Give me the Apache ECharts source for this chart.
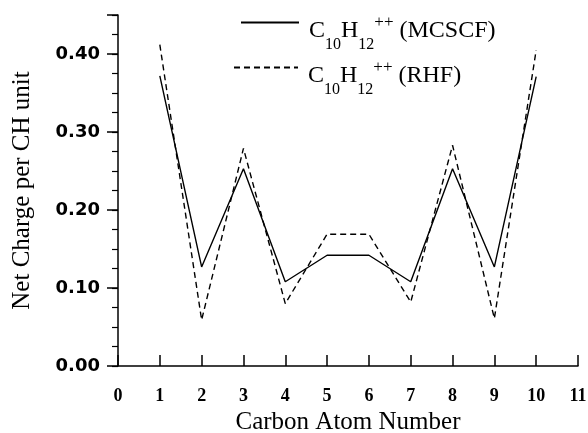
<!DOCTYPE html>
<html>
<head>
<meta charset="utf-8">
<script src="https://cdn.jsdelivr.net/npm/echarts@6/dist/echarts.min.js"></script>
<style>html,body{margin:0;padding:0;background:#fff}#c{width:588px;height:433px}</style>
</head>
<body>
<div id="c"></div>
<script>
var atoms = [1, 2, 3, 4, 5, 6, 7, 8, 9, 10];
var mcscf = [0.372, 0.127, 0.253, 0.108, 0.142, 0.142, 0.108, 0.253, 0.127, 0.371];
var rhf = [0.412, 0.059, 0.279, 0.080, 0.169, 0.169, 0.082, 0.283, 0.061, 0.405];
var yTickLabels = ['0.00', '0.10', '0.20', '0.30', '0.40'];
var xTickLabels = ['0', '1', '2', '3', '4', '5', '6', '7', '8', '9', '10', '11'];

function pairs(xs, ys) { return xs.map(function (x, i) { return [x, ys[i]]; }); }

var serif = '"Liberation Serif", "Times New Roman", serif';
var rich = {
  m0: { fontFamily: serif, fontSize: 24, height: 29, verticalAlign: 'bottom', color: '#000', padding: [0, 0, 0, 5] },
  m: { fontFamily: serif, fontSize: 24, height: 29, verticalAlign: 'bottom', color: '#000' },
  s: { fontFamily: serif, fontSize: 16, height: 2, verticalAlign: 'bottom', color: '#000' },
  p: { fontFamily: serif, fontSize: 17, lineHeight: 46, verticalAlign: 'middle', color: '#000' }
};
function legendLabel(name) {
  return '{m0|C}{s|10}{m|H}{s|12}{p|++}{m| (' + name + ')}';
}

var chart = echarts.init(document.getElementById('c'), null, { renderer: 'canvas' });
chart.setOption({
  animation: false,
  backgroundColor: '#fff',
  grid: { left: 118, right: 10, top: 15, bottom: 67, containLabel: false, outerBoundsMode: 'none' },
  legend: [
    { data: ['MCSCF'], left: 240, top: 14, padding: 0, itemWidth: 58, itemHeight: 14,
      selectedMode: false, formatter: legendLabel, itemStyle: { opacity: 0 }, textStyle: { rich: rich } },
    { data: ['RHF'], left: 233, top: 59, padding: 0, itemWidth: 64, itemHeight: 14,
      selectedMode: false, formatter: legendLabel, itemStyle: { opacity: 0 }, textStyle: { rich: rich } }
  ],
  xAxis: {
    type: 'value', min: 0, max: 11, interval: 1,
    name: 'Carbon Atom Number', nameLocation: 'middle', nameGap: 43,
    nameTextStyle: { fontFamily: serif, fontSize: 25, color: '#000' },
    axisLine: { lineStyle: { color: '#000', width: 1.5 } },
    axisTick: { inside: true, length: 11, lineStyle: { color: '#000', width: 1.5 } },
    axisLabel: { margin: 21, fontFamily: serif, fontWeight: 'bold', fontSize: 18, color: '#000',
      formatter: function (v) { return xTickLabels[Math.round(v)]; } },
    splitLine: { show: false }
  },
  yAxis: [
    {
      type: 'value', min: 0, max: 0.45, interval: 0.1,
      name: 'Net Charge per CH unit', nameLocation: 'middle', nameGap: 83,
      nameTextStyle: { fontFamily: serif, fontSize: 25, color: '#000' },
      axisLine: { show: true, lineStyle: { color: '#000', width: 1.5 } },
      axisTick: { show: true, length: 11, lineStyle: { color: '#000', width: 1.5 } },
      axisLabel: { margin: 18, fontFamily: '"DejaVu Sans", sans-serif', fontWeight: 'bold', fontSize: 18, color: '#000',
        formatter: function (v) { var i = Math.round(v * 10); return Math.abs(v * 10 - i) < 1e-6 && i < yTickLabels.length ? yTickLabels[i] : ''; } },
      splitLine: { show: false }
    },
    {
      type: 'value', min: 0, max: 0.45, interval: 0.025, position: 'left',
      axisLine: { show: false },
      axisTick: { show: true, length: 6, lineStyle: { color: '#000', width: 1.2 } },
      axisLabel: { show: false },
      splitLine: { show: false }
    }
  ],
  series: [
    { name: 'MCSCF', type: 'line', yAxisIndex: 0, data: pairs(atoms, mcscf), symbol: 'none',
      color: '#000', lineStyle: { color: '#000', width: 1.4, type: 'solid' } },
    { name: 'RHF', type: 'line', yAxisIndex: 0, data: pairs(atoms, rhf), symbol: 'none',
      color: '#000', lineStyle: { color: '#000', width: 1.4, type: [6, 4] } }
  ]
});
</script>
</body>
</html>
